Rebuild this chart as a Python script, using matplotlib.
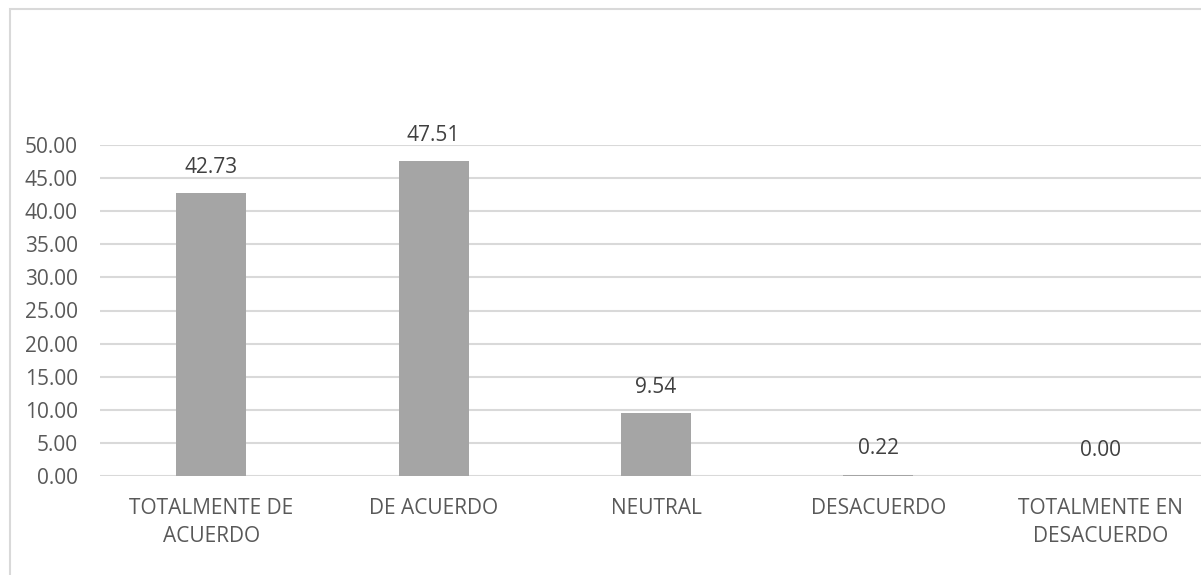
import matplotlib.pyplot as plt
from matplotlib.patches import Rectangle

categories = ['TOTALMENTE DE\nACUERDO', 'DE ACUERDO', 'NEUTRAL', 'DESACUERDO', 'TOTALMENTE EN\nDESACUERDO']
values = [42.73, 47.51, 9.54, 0.22, 0.00]
yticks = [0, 5, 10, 15, 20, 25, 30, 35, 40, 45, 50]

plt.rcParams['font.family'] = ['Open Sans', 'DejaVu Sans']
text_color = '#595959'

fig = plt.figure(figsize=(12.01, 5.75), dpi=100)
W, H = 1201, 575
# chart border (left and top edges visible)
fig.patches.append(Rectangle((10 / W, -0.2), 1.5, 1.2 - 9 / H, transform=fig.transFigure,
                             fill=False, edgecolor='#D9D9D9', linewidth=1.5))

ax = fig.add_axes([100 / W, 1 - 476 / H, 1112 / W, (476 - 145) / H])
x = list(range(len(categories)))
ax.bar(x, values, width=0.315, color='#A5A5A5', zorder=3)
for xi, v in zip(x, values):
    ax.annotate('{:.2f}'.format(v), (xi, v), xytext=(0, 18.5), textcoords='offset points',
                ha='center', va='center', fontsize=15, color='#404040')

ax.set_xlim(-0.5, len(categories) - 0.5)
ax.set_ylim(0, 50)
ax.set_yticks(yticks)
ax.set_yticklabels(['{:.2f}'.format(t) for t in yticks])
ax.set_xticks(x)
ax.set_xticklabels(categories, linespacing=1.45)
ax.tick_params(axis='both', length=0, labelsize=15, colors=text_color)
ax.tick_params(axis='y', pad=16)
ax.tick_params(axis='x', pad=16)
ax.grid(axis='y', color='#D9D9D9', linewidth=1.5, zorder=0)
for s in ax.spines.values():
    s.set_visible(False)

fig.savefig('out.png', dpi=100)
